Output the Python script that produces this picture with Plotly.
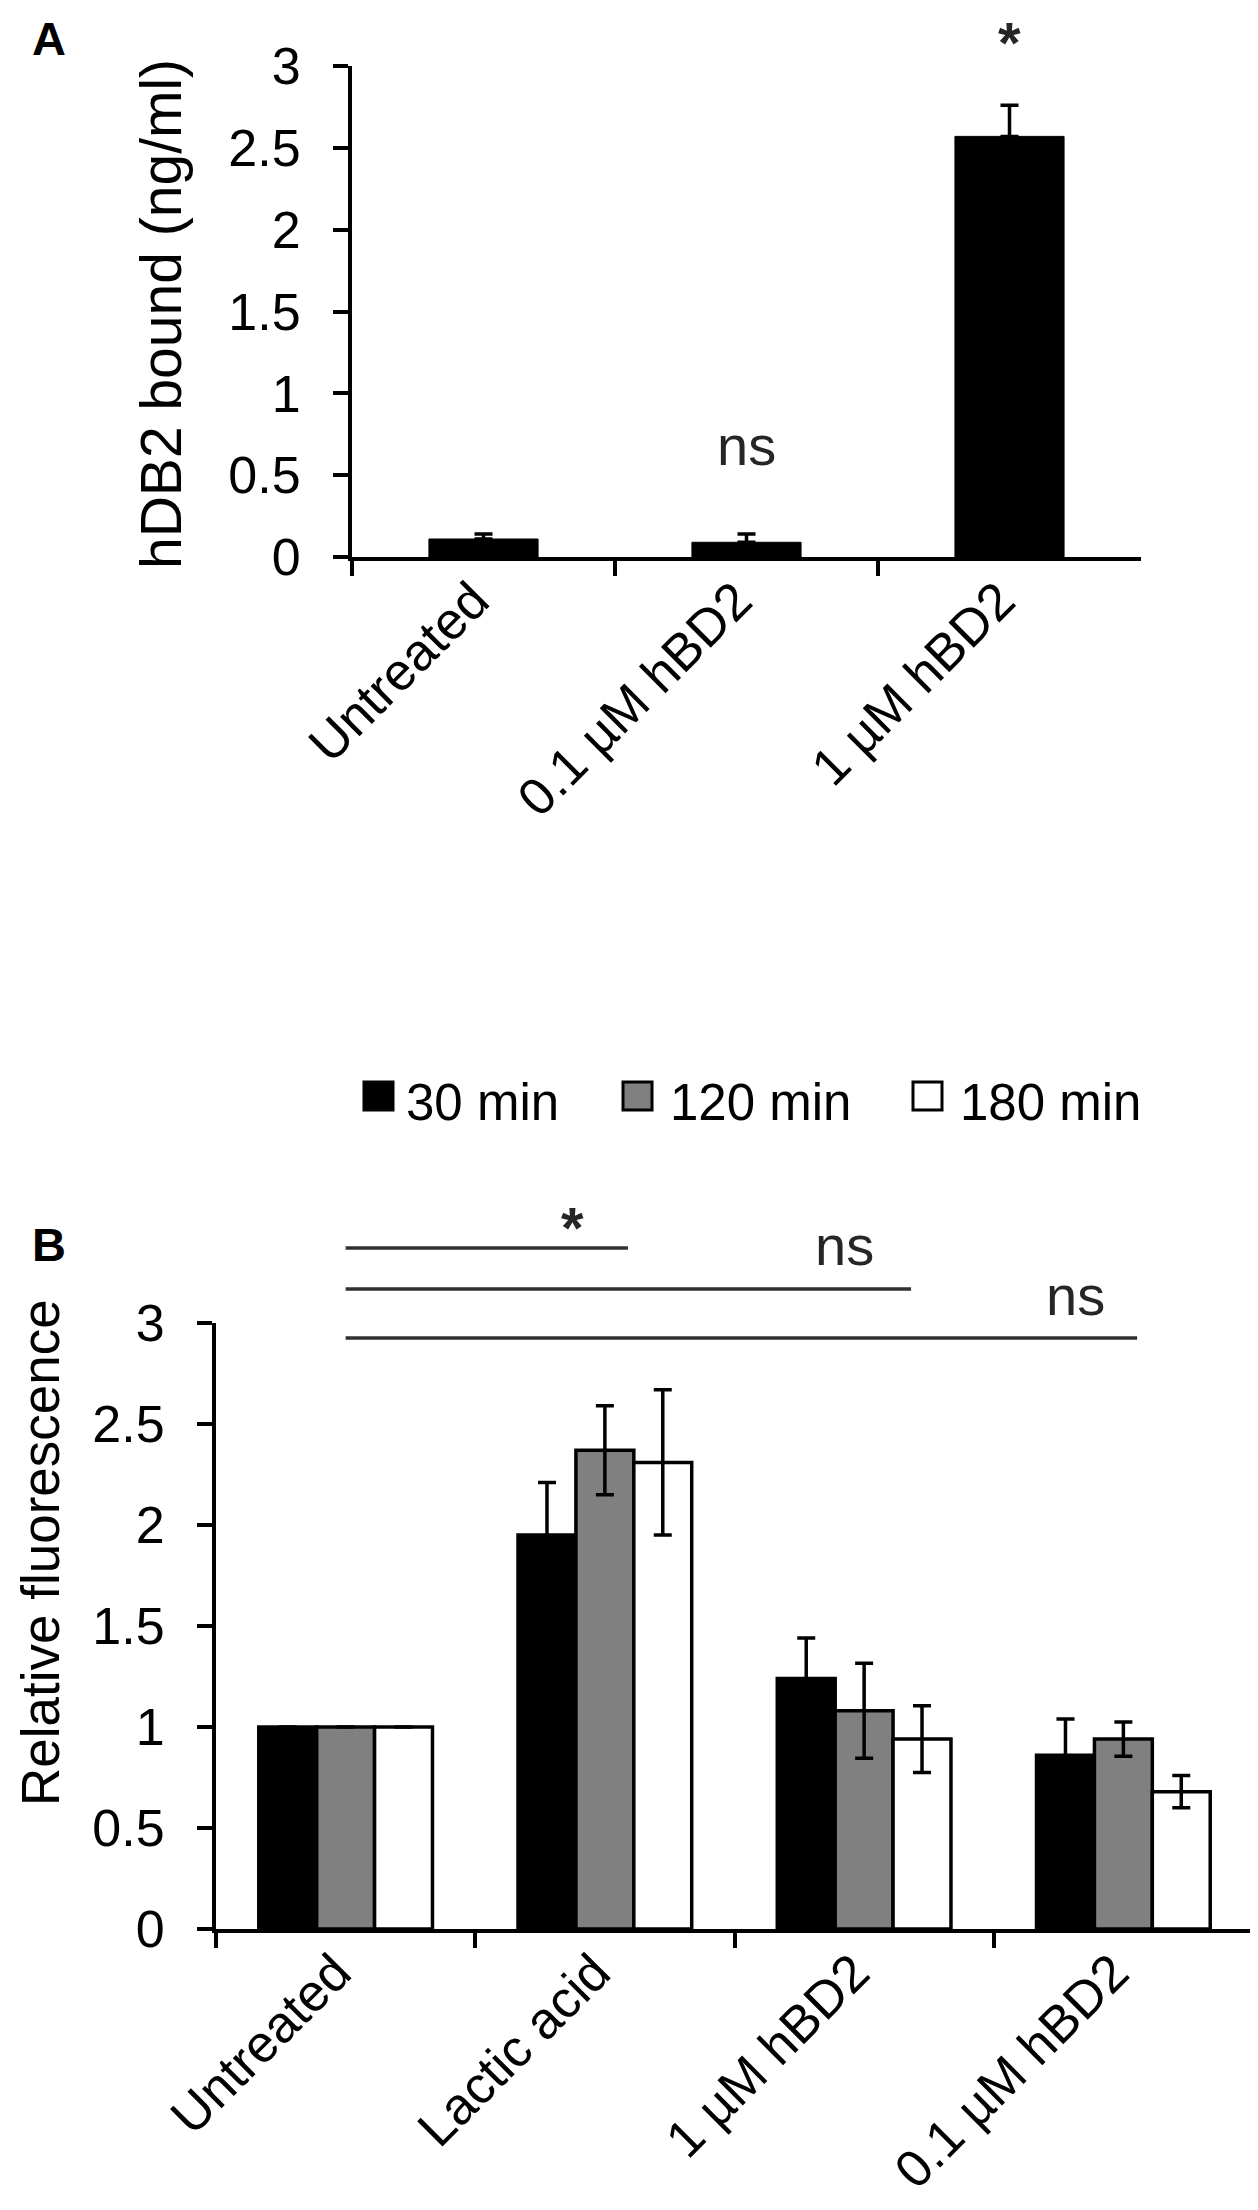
import plotly.graph_objects as go

W, H = 1258, 2210
FONT = "Liberation Sans, Arial, sans-serif"

# ---------------- Panel A data ----------------
a_categories = ["Untreated", "0.1 µM hBD2", "1 µM hBD2"]
a_values = [0.11, 0.09, 2.57]
a_errors = [0.03, 0.05, 0.19]
a_sig = ["", "ns", "*"]
a_ytitle = "hDB2 bound (ng/ml)"

# ---------------- Panel B data ----------------
b_categories = ["Untreated", "Lactic acid", "1 µM hBD2", "0.1 µM hBD2"]
b_series = ["30 min", "120 min", "180 min"]
b_30 = [1.0, 1.95, 1.24, 0.86]
b_120 = [1.0, 2.37, 1.08, 0.94]
b_180 = [1.0, 2.31, 0.94, 0.68]
b_30_err = [None, 0.26, 0.20, 0.18]
b_120_err = [None, 0.22, 0.235, 0.085]
b_180_err = [None, 0.36, 0.165, 0.08]
b_sig_labels = ["*", "ns", "ns"]
b_ytitle = "Relative fluorescence"
y_ticks = [0, 0.5, 1, 1.5, 2, 2.5, 3]

series_colors = ["#000000", "#808080", "#ffffff"]


def px_x(px):
    return px / W


def px_y(py):
    return 1 - py / H


fig = go.Figure()

# Panel A bars
fig.add_trace(go.Bar(
    x=a_categories, y=a_values, width=0.415,
    marker=dict(color="#000000", line=dict(color="#000000", width=1)),
    error_y=dict(type="data", symmetric=False, array=a_errors,
                 arrayminus=[0] * len(a_errors), color="#000000",
                 thickness=3.5, width=9),
    xaxis="x", yaxis="y", showlegend=False, name="hBD2 bound"))

# Panel B bars
for name, vals, errs, col in zip(b_series, [b_30, b_120, b_180],
                                 [b_30_err, b_120_err, b_180_err], series_colors):
    fig.add_trace(go.Bar(
        x=b_categories, y=vals, name=name,
        marker=dict(color=col, line=dict(color="#000000", width=3.5)),
        error_y=dict(type="data", array=errs, color="#000000",
                     thickness=3.5, width=9),
        xaxis="x2", yaxis="y2", showlegend=False))

axis_common = dict(showline=True, linecolor="#000000", linewidth=4,
                   ticks="outside", ticklen=15, tickwidth=3.5, tickcolor="#000000",
                   showgrid=False, zeroline=False, automargin=False)
tf = dict(family=FONT, size=52, color="#000000")

fig.update_layout(
    template="none",
    width=W, height=H, autosize=False,
    margin=dict(l=0, r=0, t=0, b=0, pad=0, autoexpand=False),
    paper_bgcolor="#ffffff", plot_bgcolor="#ffffff",
    barmode="group", bargap=0.33, bargroupgap=0,
    font=dict(family=FONT, color="#000000"),
    showlegend=False,
    xaxis=dict(domain=[px_x(344), px_x(1133)], anchor="y", type="category",
               tickson="boundaries", tickangle=-45, range=[-0.5, 2.5],
               ticklabelstandoff=-12, ticklabelshift=-10, tickfont=tf, **axis_common),
    yaxis=dict(domain=[px_y(549), px_y(58)], anchor="x", range=[0, 3],
               tickvals=y_ticks, ticklabelstandoff=22, tickfont=tf, **axis_common),
    xaxis2=dict(domain=[px_x(208), px_x(1245)], anchor="y2", type="category",
                tickson="boundaries", tickangle=-45, range=[-0.5, 3.5],
                ticklabelstandoff=-12, ticklabelshift=-10, tickfont=tf, **axis_common),
    yaxis2=dict(domain=[px_y(1921), px_y(1315)], anchor="x2", range=[0, 3],
                tickvals=y_ticks, ticklabelstandoff=22, tickfont=tf, **axis_common),
)

ann = []


def add_text(text, x, y, size, xref="paper", yref="paper", color="#000000",
             xanchor="center", yanchor="middle", angle=0):
    ann.append(dict(text=text, x=x, y=y, xref=xref, yref=yref, showarrow=False,
                    xanchor=xanchor, yanchor=yanchor, textangle=angle,
                    font=dict(size=size, family=FONT, color=color)))


# Panel letters
add_text("<b>A</b>", px_x(41), px_y(31), 47)
add_text("<b>B</b>", px_x(41), px_y(1236), 47)

# Y titles
add_text(a_ytitle, px_x(153), px_y(306), 57, angle=-90)
add_text(b_ytitle, px_x(32), px_y(1545), 53, angle=-90)

# Panel A significance labels
a_sig_y = {"ns": 438, "*": 35}
a_sig_size = {"ns": 56, "*": 58}
for cat, lab in zip(a_categories, a_sig):
    if lab:
        add_text("<b>*</b>" if lab == "*" else lab, cat, px_y(a_sig_y[lab]),
                 a_sig_size[lab], xref="x", color="#262626")

# Panel B significance brackets
sig_line_y = [1240, 1281, 1330]
sig_line_x1 = [1.089, 2.181, 3.053]
sig_text_x = [0.877, 1.926, 2.817]
sig_text_y = [1219, 1237, 1287]
shapes = []
for lab, ly, x1, tx, ty in zip(b_sig_labels, sig_line_y, sig_line_x1, sig_text_x, sig_text_y):
    shapes.append(dict(type="line", xref="x2", yref="paper", x0=0, x1=x1,
                       y0=px_y(ly), y1=px_y(ly),
                       line=dict(color="#303030", width=3.5)))
    add_text("<b>*</b>" if lab == "*" else lab, tx, px_y(ty),
             58 if lab == "*" else 56, xref="x2", color="#262626")

# Legend (manual, large swatches)
leg_sq_x = [356, 615, 905]
leg_txt_x = [396, 660, 950]
for name, col, sx, tx in zip(b_series, series_colors, leg_sq_x, leg_txt_x):
    shapes.append(dict(type="rect", xref="paper", yref="paper",
                       x0=px_x(sx), x1=px_x(sx + 29), y0=px_y(1102), y1=px_y(1074),
                       fillcolor=col, line=dict(color="#000000", width=3)))
    add_text(name, px_x(tx), px_y(1094), 51, xanchor="left")

fig.update_layout(annotations=ann, shapes=shapes)

fig.write_html("out.html")
